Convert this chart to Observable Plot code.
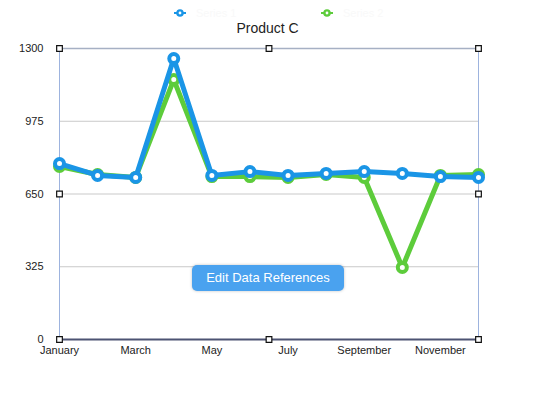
<!DOCTYPE html>
<html>
<head>
<meta charset="utf-8">
<script src="https://cdn.jsdelivr.net/npm/d3@7"></script>
<script src="https://cdn.jsdelivr.net/npm/@observablehq/plot@0.6"></script>
<style>
  html, body { margin: 0; padding: 0; background: #fff; }
  body { width: 540px; height: 394px; position: relative; overflow: hidden; font-family: "Liberation Sans", Arial, sans-serif; }
  #legend { position: absolute; top: 0; left: 0; width: 540px; height: 24px; }
  .lg { position: absolute; top: 6px; display: flex; align-items: center; font-size: 11px; color: #f9f9f9; }
  .lg svg { margin-right: 6px; }
  #title { position: absolute; top: 19px; left: 0; width: 535px; text-align: center; font-size: 14px; color: #222; line-height: 18px; }
  #chart { position: absolute; top: 40px; left: 0; }
  #btn { position: absolute; left: 192px; top: 265px; width: 152px; height: 26px; border-radius: 5px; background: #4aa2ef; color: #fff; font-size: 13px; line-height: 26px; text-align: center; box-shadow: 0 0 3px rgba(0,0,0,0.25); }
</style>
</head>
<body>
<div id="legend"></div>
<div id="title"></div>
<div id="chart"></div>
<div id="btn"></div>
<script>
const months = ["January","February","March","April","May","June","July","August","September","October","November","December"];
const xTickMonths = ["January","March","May","July","September","November"];
const yTicks = [0, 325, 650, 975, 1300];
const seriesNames = ["Series 1", "Series 2"];
const seriesColors = ["#1a95e6", "#5dcc3b"];
const blueValues  = [786, 733, 724, 1255, 733, 750, 733, 742, 750, 742, 728, 724];
const greenValues = [773, 737, 724, 1161, 728, 728, 724, 737, 724, 322, 733, 737];
const titleText = "Product C";
const buttonText = "Edit Data References";
// selection handles: month-index positions and value positions
const handleXs = [0, 5.5, 11];
const handleYs = [0, 650, 1300];

document.getElementById("title").textContent = titleText;
document.getElementById("btn").textContent = buttonText;

const legendLeft = [170, 317];
const legend = document.getElementById("legend");
seriesNames.forEach((name, i) => {
  const d = document.createElement("div");
  d.className = "lg";
  d.style.left = legendLeft[i] + "px";
  d.innerHTML = `<svg width="20" height="14"><line x1="4" x2="16" y1="7" y2="7" stroke="${seriesColors[i]}" stroke-width="2"/><circle cx="10" cy="7" r="2.6" fill="#fff" stroke="${seriesColors[i]}" stroke-width="2.4"/></svg><span>${name}</span>`;
  legend.appendChild(d);
});

const blue = months.map((m, i) => ({i, month: m, value: blueValues[i]}));
const green = months.map((m, i) => ({i, month: m, value: greenValues[i]}));
const handles = [];
handleYs.forEach(y => handleXs.forEach(x => { if (!(x === 5.5 && y === 650)) handles.push({x, y}); }));

const tickIdx = xTickMonths.map(m => months.indexOf(m));

const chart = Plot.plot({
  width: 540,
  height: 354,
  marginLeft: 59,
  marginRight: 62,
  marginTop: 8,
  marginBottom: 55,
  style: {fontFamily: "Liberation Sans, Arial, sans-serif", fontSize: "11px", color: "#222", background: "transparent"},
  x: {type: "linear", domain: [0, 11]},
  y: {domain: [0, 1300]},
  marks: [
    Plot.ruleY(yTicks.filter(v => v > 0 && v < 1300), {stroke: "#c9c9c9", strokeWidth: 1}),
    Plot.ruleY([1300], {stroke: "#a6b0c4", strokeWidth: 1.5}),
    Plot.ruleX([0, 11], {stroke: "#9db3de", strokeWidth: 1}),
    Plot.ruleY([0], {stroke: "#4d5373", strokeWidth: 2}),
    Plot.axisY({ticks: yTicks, tickFormat: d => String(d), tickSize: 0, tickPadding: 16, fontSize: 11, label: null}),
    Plot.axisX({ticks: tickIdx, tickFormat: i => months[i], tickSize: 0, tickPadding: 7, fontSize: 11, label: null}),
    Plot.line(green, {x: "i", y: "value", stroke: seriesColors[1], strokeWidth: 5, strokeLinejoin: "round"}),
    Plot.dot(green, {x: "i", y: "value", r: 4.5, stroke: seriesColors[1], strokeWidth: 4, fill: "#fff"}),
    Plot.line(blue, {x: "i", y: "value", stroke: seriesColors[0], strokeWidth: 5, strokeLinejoin: "round"}),
    Plot.dot(blue, {x: "i", y: "value", r: 4.5, stroke: seriesColors[0], strokeWidth: 4, fill: "#fff"}),
    Plot.dot(handles, {x: "x", y: "y", symbol: "square", r: 3.2, stroke: "#111", strokeWidth: 1.2, fill: "#fff"})
  ]
});
document.getElementById("chart").appendChild(chart);
</script>
</body>
</html>
